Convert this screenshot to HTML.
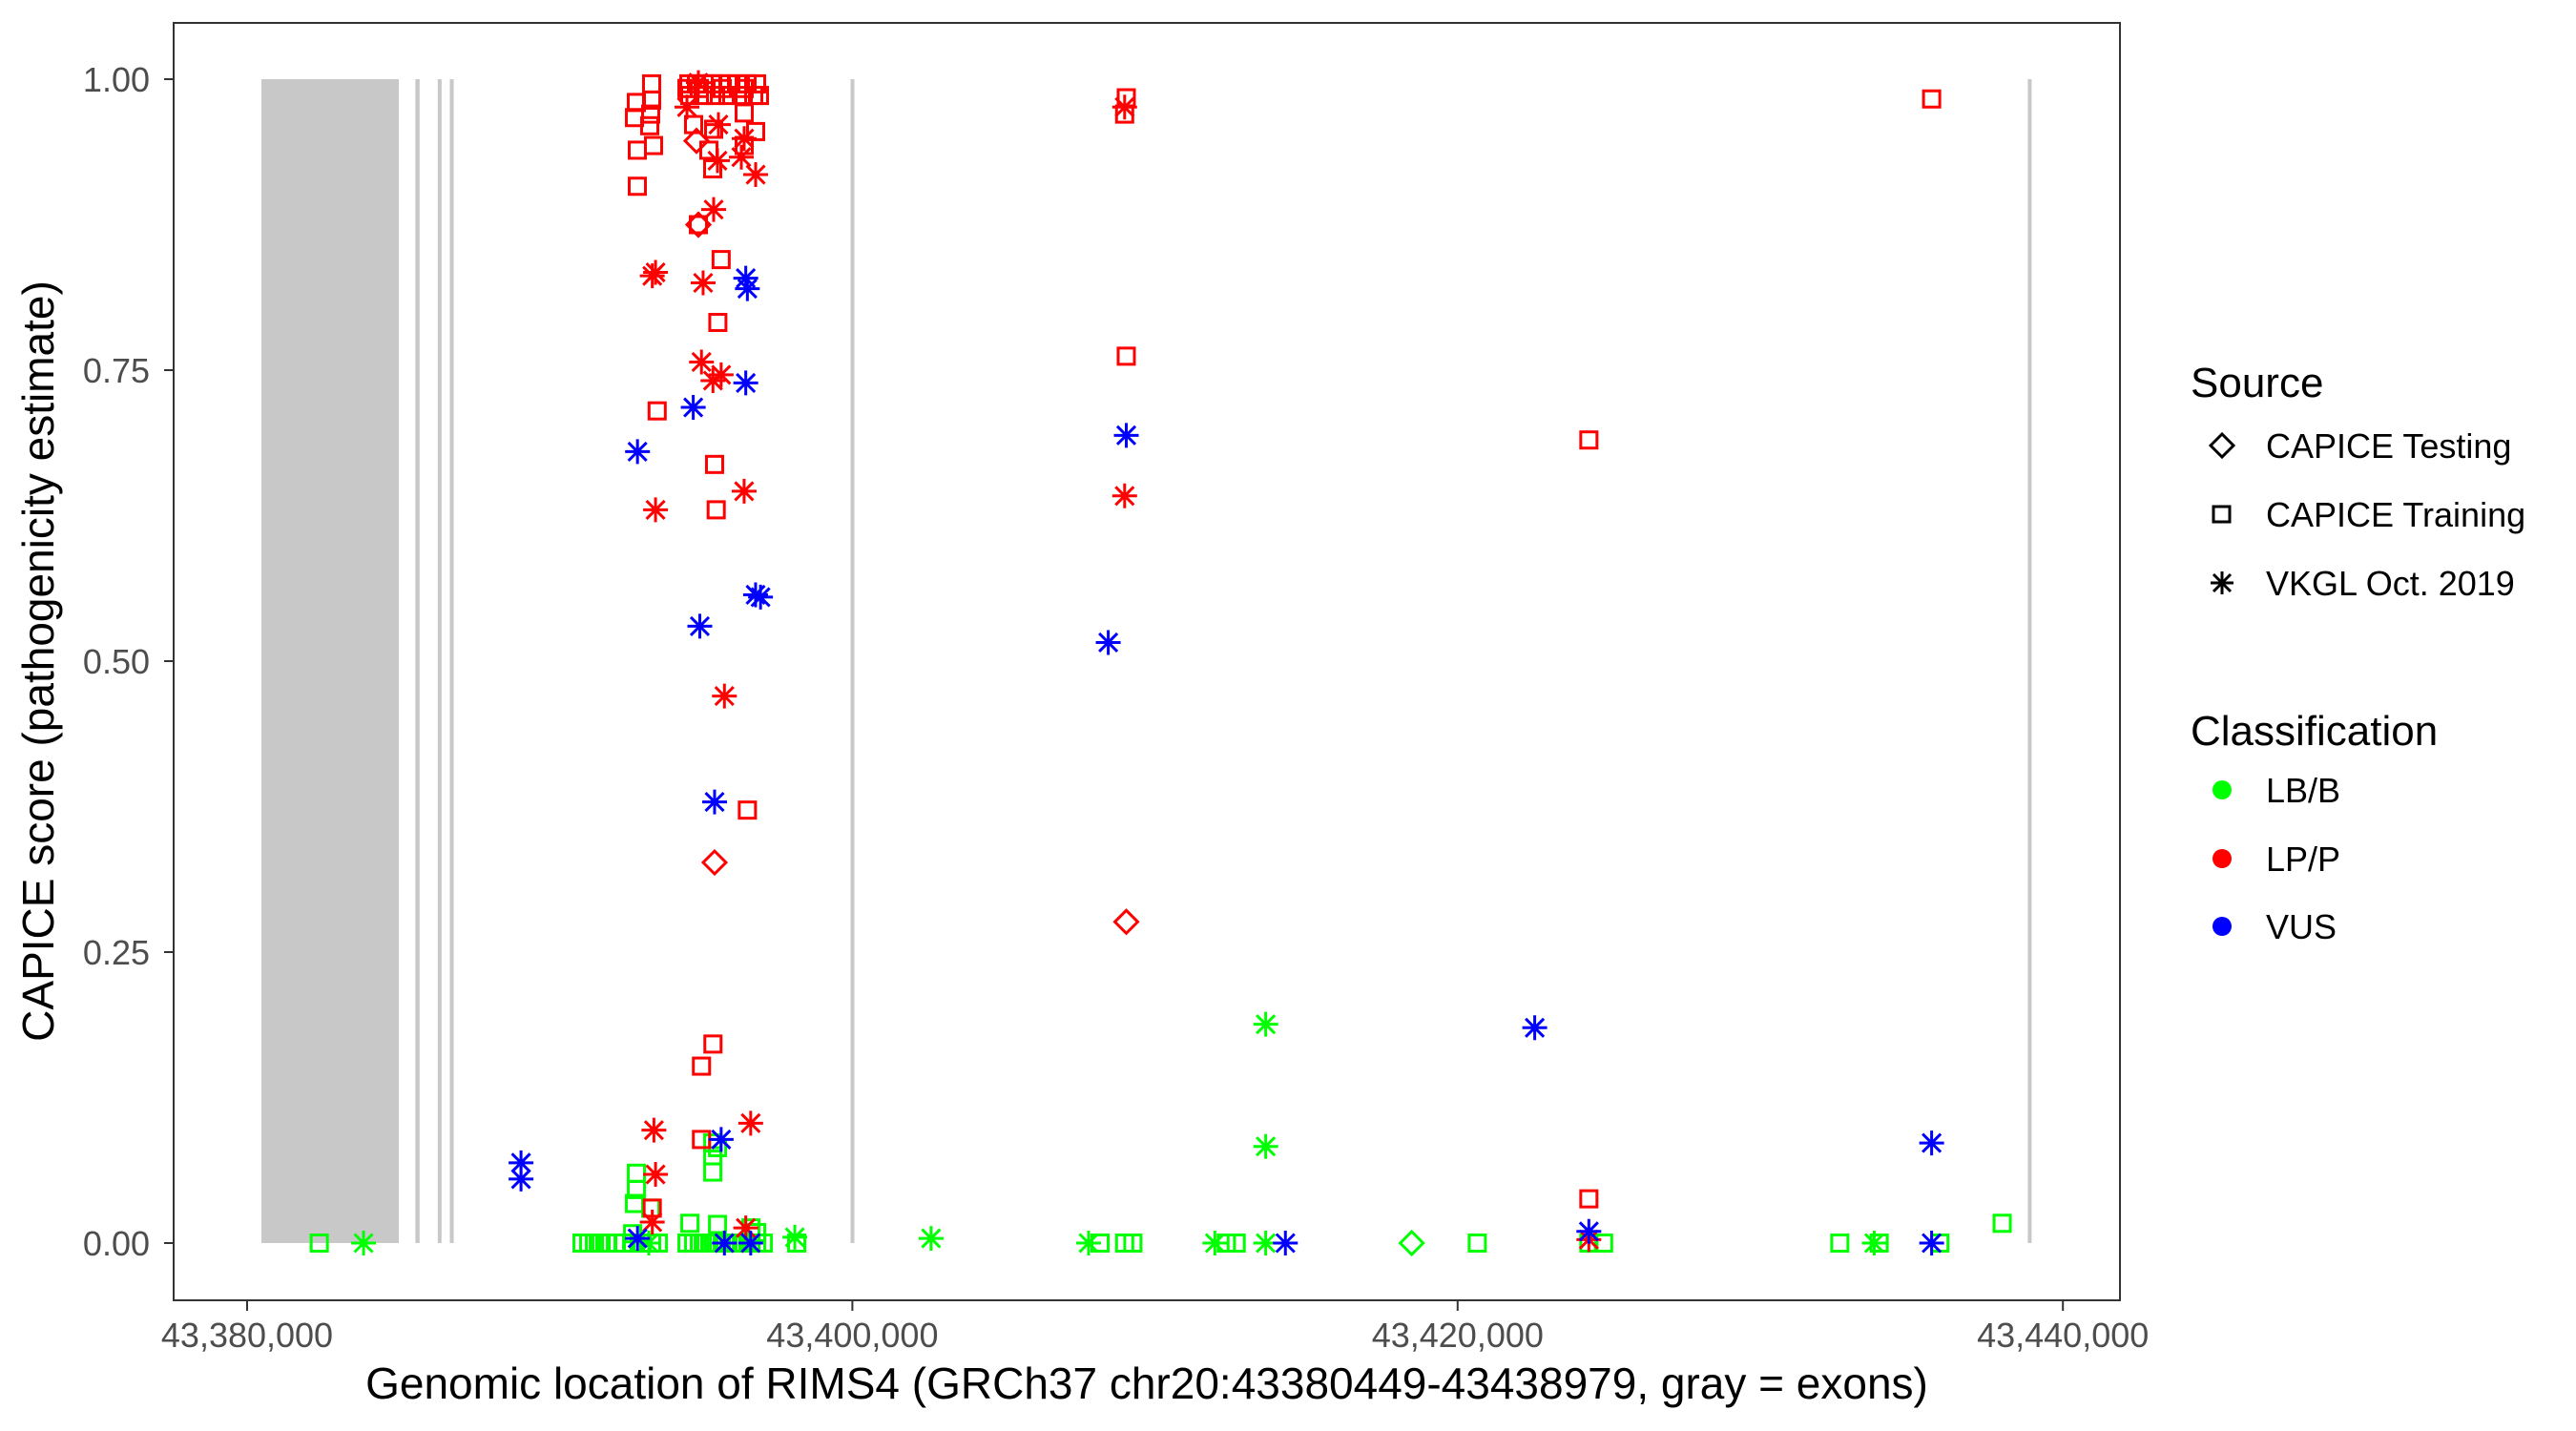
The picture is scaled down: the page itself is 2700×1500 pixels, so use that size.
<!DOCTYPE html>
<html><head><meta charset="utf-8"><style>
html,body{margin:0;padding:0;background:#fff}
svg{display:block;font-family:"Liberation Sans",Arial,sans-serif}
</style></head><body>
<svg id="chart" width="2700" height="1500" viewBox="0 0 2700 1500" xmlns="http://www.w3.org/2000/svg">
<rect x="0" y="0" width="2700" height="1500" fill="#fff"/>
<g id="exons"></g>
<g id="points"></g>
<rect x="182" y="24" width="2040" height="1339" fill="none" stroke="#333" stroke-width="2"/>
<g id="yaxis"></g>
<g id="xaxis"></g>
<text x="1202" y="1466" font-size="46" text-anchor="middle" fill="#000">Genomic location of RIMS4 (GRCh37 chr20:43380449-43438979, gray = exons)</text>
<text transform="translate(56,693) rotate(-90)" font-size="46" text-anchor="middle" fill="#000">CAPICE score (pathogenicity estimate)</text>
<g>
<text x="2296" y="416" font-size="44">Source</text>
<path d="M2317,467 L2329,455 L2341,467 L2329,479 Z" fill="none" stroke="#000" stroke-width="3"/>
<rect x="2320" y="531" width="17" height="16" fill="none" stroke="#000" stroke-width="3"/>
<g stroke="#000" stroke-width="3"><line x1="2317" y1="611" x2="2341" y2="611"/><line x1="2329" y1="599" x2="2329" y2="623"/><line x1="2320" y1="602" x2="2338" y2="620"/><line x1="2320" y1="620" x2="2338" y2="602"/></g>
<text x="2375" y="480" font-size="36" fill="#000">CAPICE Testing</text>
<text x="2375" y="552" font-size="36" fill="#000">CAPICE Training</text>
<text x="2375" y="624" font-size="36" fill="#000">VKGL Oct. 2019</text>
<text x="2296" y="781" font-size="44">Classification</text>
<circle cx="2329" cy="828" r="10" fill="#00ff00"/>
<circle cx="2329" cy="900" r="10" fill="#ff0000"/>
<circle cx="2329" cy="971" r="10" fill="#0000ff"/>
<text x="2375" y="841" font-size="36" fill="#000">LB/B</text>
<text x="2375" y="913" font-size="36" fill="#000">LP/P</text>
<text x="2375" y="984" font-size="36" fill="#000">VUS</text>
</g>
</svg>
<script>
// ---- data (offset in bp from 43,380,000) ----
const xTicks = [0, 20000, 40000, 60000];
const xTickLabels = ["43,380,000", "43,400,000", "43,420,000", "43,440,000"];
const yTicks = [0, 0.25, 0.5, 0.75, 1];
const yTickLabels = ["0.00", "0.25", "0.50", "0.75", "1.00"];
const exonStarts = [473, 5560, 6300, 6700, 19940, 58840];
const exonEnds   = [5013, 5700, 6410, 6800, 20060, 58960];

// green LB/B
const greenPos   = [2385,3848,11067,11288,11477,11698,11918,12171,12423,12738,13053,13367,13590,14535,14756,14945,15166,15387,15576,15797,16017,16207,16428,16648,16837,17058,14630,15545,12864,12864,12800,13337,15387,15387,15387,15545,12738,16648,16837,13274,18098,18161,22601,27805,28184,28997,29268,31978,32357,32683,33658,33658,33658,40650,38482,44336,44823,52628,53766,53929,55934,57994];
const greenScore = [0,0,0,0,0,0,0,0,0,0,0,0,0,0,0,0,0,0,0,0,0,0,0,0,0,0,0.017,0.016,0.060,0.046,0.034,0.030,0.086,0.075,0.061,0.082,0.008,0.013,0.009,0,0.005,0,0.004,0,0,0,0,0,0,0,0,0.188,0.083,0,0,0,0,0,0,0,0,0.017];
const greenShape = ["s","a","s","s","s","s","s","s","s","s","s","s","s","s","s","s","s","s","s","s","s","s","s","s","s","s","s","s","s","s","s","s","s","s","s","s","s","s","s","a","a","s","a","a","s","s","s","a","s","s","a","a","a","s","d","s","s","s","a","s","s","s"];

// red LP/P
const redPos   = [13367,12863,13367,12800,13335,13304,12894,13430,12894,14597,14849,15101,15385,15637,15889,16204,16520,16835,14628,15069,15479,15889,16331,16741,14534,14943,15700,16425,14754,15416,15258,15385,16425,16804,16425,16930,14849,15574,16331,16804,15542,16425,15416,14912,14534,14912,14912,13496,13388,15068,15014,15393,15664,16423,13496,15772,13442,13496,13388,16640,16477,28997,28997,44336,13550,15664,15555,15447,15501,16531,15393,15014,15014,13388,29051,28997,29051,44336,44336,55663,15447,29051];
const redScore = [0.996,0.980,0.982,0.967,0.970,0.960,0.939,0.943,0.908,0.996,0.996,0.996,0.996,0.996,0.996,0.996,0.996,0.996,0.986,0.986,0.986,0.986,0.986,0.986,0.992,0.992,0.992,0.992,0.961,0.957,0.939,0.923,0.971,0.955,0.943,0.986,0.947,0.961,0.933,0.918,0.930,0.949,0.888,0.997,0.976,0.875,0.875,0.834,0.831,0.825,0.757,0.741,0.746,0.646,0.630,0.470,0.097,0.059,0.018,0.103,0.013,0.976,0.642,0.003,0.715,0.845,0.791,0.669,0.630,0.372,0.171,0.152,0.089,0.030,0.984,0.970,0.762,0.690,0.038,0.983,0.327,0.276];
const redShape = ["s","s","s","s","s","s","s","s","s","s","s","s","s","s","s","s","s","s","s","s","s","s","s","s","s","s","s","s","s","s","s","s","s","s","s","s","d","a","a","a","a","a","a","a","a","d","s","a","a","a","a","a","a","a","a","a","a","a","a","a","a","a","a","a","s","s","s","s","s","s","s","s","s","s","s","s","s","s","s","s","d","d"];

// blue VUS
const bluePos   = [16477,16531,14742,16477,12900,16802,16965,14959,15447,15664,9051,9051,12900,15772,16640,29051,28455,34309,42547,44336,55663,55663];
const blueScore = [0.829,0.820,0.718,0.739,0.680,0.557,0.555,0.530,0.379,0.089,0.069,0.055,0.004,0,0,0.694,0.516,0,0.185,0.010,0.086,0];

// ---- axes ----
const X0 = 259, XPER = 31.72/1000; // px per bp
const Y0 = 1303, YSPAN = 1220;
function sx(v){ return X0 + v*XPER; }
function sy(v){ return Y0 - v*YSPAN; }
const NS = "http://www.w3.org/2000/svg";
function mk(tag, attrs, parent){ const e=document.createElementNS(NS,tag); for(const k in attrs) e.setAttribute(k,attrs[k]); parent.appendChild(e); return e; }

const gEx = document.getElementById('exons');
for (let i=0;i<exonStarts.length;i++){
  const r = mk('rect',{x:sx(exonStarts[i]),y:sy(1),width:Math.max(4,sx(exonEnds[i])-sx(exonStarts[i])),height:sy(0)-sy(1),fill:'#c8c8c8'},gEx);
  
  
}

const gY = document.getElementById('yaxis');
yTicks.forEach((t,i)=>{
  const l = mk('line',{x1:172,x2:182,y1:sy(t),y2:sy(t),stroke:'#333','stroke-width':2},gY);
  
  
  const tx = mk('text',{x:157,y:sy(t)+13,'font-size':36,'text-anchor':'end',fill:'#4d4d4d'},gY);
  tx.textContent = yTickLabels[i];
  
  
});
const gX = document.getElementById('xaxis');
xTicks.forEach((t,i)=>{
  const l = mk('line',{x1:sx(t),x2:sx(t),y1:1363,y2:1374,stroke:'#333','stroke-width':2},gX);
  
  
  const tx = mk('text',{x:sx(t),y:1412,'font-size':36,'text-anchor':'middle',fill:'#4d4d4d'},gX);
  tx.textContent = xTickLabels[i];
  
  
});

const gP = document.getElementById('points');
function drawPoint(p, s, shape, color){
  const cx = sx(p), cy = sy(s);
  let el;
  if (shape === 's'){
    el = mk('rect',{x:cx-8.5,y:cy-8.5,width:17,height:17,fill:'none',stroke:color,'stroke-width':3},gP);
  } else if (shape === 'd'){
    el = mk('path',{d:`M${cx-12},${cy} L${cx},${cy-12} L${cx+12},${cy} L${cx},${cy+12} Z`,fill:'none',stroke:color,'stroke-width':3},gP);
  } else {
    el = mk('path',{d:`M${cx-13},${cy} H${cx+13} M${cx},${cy-13} V${cy+13} M${cx-9.5},${cy-9.5} L${cx+9.5},${cy+9.5} M${cx-9.5},${cy+9.5} L${cx+9.5},${cy-9.5}`,fill:'none',stroke:color,'stroke-width':3},gP);
  }
  
  
}
greenPos.forEach((p,i)=>drawPoint(p, greenScore[i], greenShape[i], '#00ff00'));
redPos.forEach((p,i)=>drawPoint(p, redScore[i], redShape[i], '#ff0000'));
bluePos.forEach((p,i)=>drawPoint(p, blueScore[i], 'a', '#0000ff'));
</script>
</body></html>
